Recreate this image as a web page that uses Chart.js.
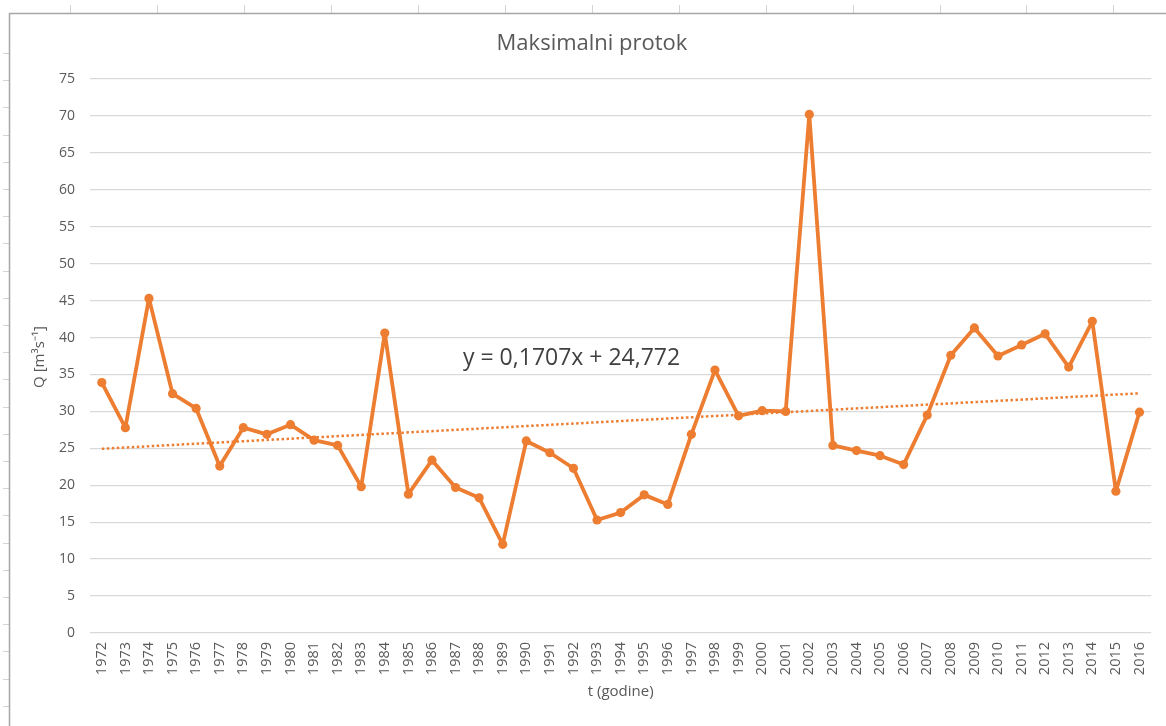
<!DOCTYPE html>
<html>
<head>
<meta charset="utf-8">
<style>
  html, body { margin: 0; padding: 0; background: #ffffff; }
  #wrap { position: relative; width: 1166px; height: 726px; }
  canvas { display: block; }
</style>
<script src="https://cdn.jsdelivr.net/npm/chart.js@4/dist/chart.umd.min.js"></script>
</head>
<body>
<div id="wrap"><canvas id="c" width="1166" height="726"></canvas></div>
<script>
// ---- data ----
const years = [
  '1972','1973','1974','1975','1976','1977','1978','1979','1980','1981',
  '1982','1983','1984','1985','1986','1987','1988','1989','1990','1991',
  '1992','1993','1994','1995','1996','1997','1998','1999','2000','2001',
  '2002','2003','2004','2005','2006','2007','2008','2009','2010','2011',
  '2012','2013','2014','2015','2016'
];
const maxFlow = [
  33.9, 27.8, 45.3, 32.4, 30.4, 22.6, 27.8, 26.9, 28.2, 26.1,
  25.4, 19.8, 40.6, 18.8, 23.4, 19.7, 18.3, 12.0, 26.0, 24.4,
  22.3, 15.3, 16.3, 18.7, 17.4, 26.9, 35.6, 29.4, 30.1, 30.0,
  70.2, 25.4, 24.7, 24.0, 22.8, 29.5, 37.6, 41.3, 37.5, 39.0,
  40.5, 36.0, 42.2, 19.2, 29.9
];
// linear trendline end values (first and last year), as shown in the chart
const trendEnds = [24.94, 32.45];
const yTicks = [0, 5, 10, 15, 20, 25, 30, 35, 40, 45, 50, 55, 60, 65, 70, 75];
const chartTitle = 'Maksimalni protok';
const xTitle = 't (godine)';
const yTitle = 'Q [m³s⁻¹]';
const equationText = 'y = 0,1707x + 24,772';

// trend dataset: only the two end points, joined by a straight line
const trendData = years.map((_, i) =>
  i === 0 ? trendEnds[0] : (i === years.length - 1 ? trendEnds[1] : null));

const FONT = '"Open Sans", "Liberation Sans", sans-serif';
const ORANGE = '#ED7D31';
const TXT = '#595959';

const decorPlugin = {
  id: 'decor',
  beforeDraw(chart) {
    const ctx = chart.ctx;
    ctx.save();
    ctx.fillStyle = '#ffffff';
    ctx.fillRect(0, 0, chart.width, chart.height);
    // spreadsheet grid marks
    ctx.strokeStyle = '#d4d4d4';
    ctx.lineWidth = 1;
    for (let x = 70; x < chart.width; x += 86.95) {
      ctx.beginPath();
      ctx.moveTo(Math.round(x) + 0.5, 5);
      ctx.lineTo(Math.round(x) + 0.5, 13);
      ctx.stroke();
    }
    for (let y = 53; y < chart.height; y += 27.2) {
      ctx.beginPath();
      ctx.moveTo(3, Math.round(y) + 0.5);
      ctx.lineTo(9, Math.round(y) + 0.5);
      ctx.stroke();
    }
    // chart frame
    ctx.strokeStyle = '#a6a6a6';
    ctx.lineWidth = 1.5;
    ctx.beginPath();
    ctx.moveTo(9.5, chart.height + 2);
    ctx.lineTo(9.5, 13.5);
    ctx.lineTo(chart.width + 2, 13.5);
    ctx.stroke();
    ctx.restore();
  },
  afterDraw(chart) {
    const ctx = chart.ctx;
    const area = chart.chartArea;
    ctx.save();
    // title
    ctx.fillStyle = TXT;
    ctx.font = '22px ' + FONT;
    ctx.textAlign = 'center';
    ctx.textBaseline = 'middle';
    ctx.fillText(chartTitle, 592, 44);
    // x axis title
    ctx.font = '15px ' + FONT;
    ctx.fillText(xTitle, (area.left + area.right) / 2, 692);
    // y axis title
    ctx.save();
    ctx.translate(40, 357);
    ctx.rotate(-Math.PI / 2);
    ctx.fillText(yTitle, 0, 0);
    ctx.restore();
    // trendline equation
    ctx.fillStyle = '#404040';
    ctx.font = '23px ' + FONT;
    ctx.textAlign = 'left';
    ctx.fillText(equationText, 463, 358);
    ctx.restore();
  }
};

new Chart(document.getElementById('c'), {
  type: 'line',
  data: {
    labels: years,
    datasets: [
      {
        label: 'Linear trend',
        data: trendData,
        spanGaps: true,
        borderColor: ORANGE,
        borderWidth: 2.5,
        borderDash: [2.5, 2.5],
        borderCapStyle: 'butt',
        pointRadius: 0,
        pointHoverRadius: 0,
        fill: false,
        tension: 0
      },
      {
        label: 'Maksimalni protok',
        data: maxFlow,
        borderColor: ORANGE,
        backgroundColor: ORANGE,
        borderWidth: 3.8,
        borderJoinStyle: 'round',
        borderCapStyle: 'round',
        pointRadius: 4.6,
        pointBackgroundColor: ORANGE,
        pointBorderColor: ORANGE,
        pointBorderWidth: 0,
        fill: false,
        tension: 0
      }
    ]
  },
  options: {
    responsive: false,
    animation: false,
    devicePixelRatio: 1,
    layout: { padding: { top: 79, right: 11, left: 0, bottom: 0 } },
    plugins: {
      legend: { display: false },
      title: { display: false },
      tooltip: { enabled: false }
    },
    scales: {
      x: {
        type: 'category',
        offset: true,
        grid: { display: false, drawTicks: false },
        border: { display: false },
        ticks: {
          autoSkip: false,
          minRotation: 90,
          maxRotation: 90,
          padding: 9,
          color: TXT,
          font: { family: FONT, size: 14.5 }
        },
        afterFit(scale) { scale.height = 93; }
      },
      y: {
        type: 'linear',
        min: yTicks[0],
        max: yTicks[yTicks.length - 1],
        afterBuildTicks(scale) { scale.ticks = yTicks.map(v => ({ value: v })); },
        grid: { color: '#d9d9d9', lineWidth: 1.3, drawTicks: false },
        border: { display: false },
        ticks: {
          padding: 15,
          color: TXT,
          font: { family: FONT, size: 14 }
        },
        afterFit(scale) { scale.width = 90; }
      }
    }
  },
  plugins: [decorPlugin]
});
</script>
</body>
</html>
